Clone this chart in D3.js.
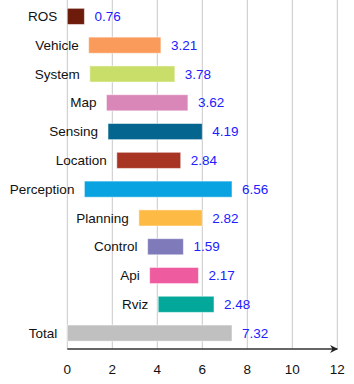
<!DOCTYPE html>
<html>
<head>
<meta charset="utf-8">
<script src="https://cdn.jsdelivr.net/npm/d3@7"></script>
<style>
  body { margin: 0; background: #fff; }
  text { font-family: "Liberation Sans", Arial, Helvetica, sans-serif; }
</style>
</head>
<body>
<script>
const categories = ["ROS", "Vehicle", "System", "Map", "Sensing", "Location", "Perception", "Planning", "Control", "Api", "Rviz", "Total"];
const starts = [0, 0.95, 1.0, 1.74, 1.81, 2.2, 0.76, 3.18, 3.57, 3.66, 4.04, 0];
const durations = [0.76, 3.21, 3.78, 3.62, 4.19, 2.84, 6.56, 2.82, 1.59, 2.17, 2.48, 7.32];
const colors = ["#6d1b0b", "#fa9a5b", "#c9dd69", "#d986b8", "#04658f", "#a83524", "#09a3e2", "#fdbb46", "#7f7aba", "#ef5b9f", "#04a89a", "#c0c0c0"];
const ticks = [0, 2, 4, 6, 8, 10, 12];

const svgWidth = 354;
const svgHeight = 384;
const axisY = 349; //y of the x-axis line

const xScale = d3.scaleLinear()
  .domain([0, 12])
  .range([67.3, 337.3]);

const yScale = d3.scaleBand()
  .domain(categories)
  .range([2, 347.5])
  .paddingInner(0.44)
  .paddingOuter(0.22);

const svg = d3.select("body")
  .append("svg")
  .attr("width", svgWidth)
  .attr("height", svgHeight);

//gridlines
svg.append("g")
  .selectAll("line")
  .data(ticks)
  .enter()
  .append("line")
  .attr("x1", d => xScale(d))
  .attr("x2", d => xScale(d))
  .attr("y1", 0)
  .attr("y2", axisY)
  .attr("stroke", "#c8c8c8")
  .attr("stroke-width", 1);

const rows = categories.map((c, i) => ({ name: c, start: starts[i], dur: durations[i], color: colors[i] }));

//bars
svg.append("g")
  .selectAll("rect")
  .data(rows)
  .enter()
  .append("rect")
  .attr("x", d => xScale(d.start))
  .attr("y", d => yScale(d.name))
  .attr("width", d => xScale(d.start + d.dur) - xScale(d.start))
  .attr("height", yScale.bandwidth())
  .attr("fill", d => d.color)
  .attr("stroke", "rgba(255,255,255,0.5)")
  .attr("stroke-width", 1);

//category labels
svg.append("g")
  .selectAll("text")
  .data(rows)
  .enter()
  .append("text")
  .attr("x", d => xScale(d.start) - 10)
  .attr("y", d => yScale(d.name) + yScale.bandwidth() / 2)
  .attr("dy", "0.35em")
  .attr("text-anchor", "end")
  .attr("font-size", "13.5px")
  .attr("fill", "#111")
  .text(d => d.name);

//value labels
svg.append("g")
  .selectAll("text")
  .data(rows)
  .enter()
  .append("text")
  .attr("x", d => xScale(d.start + d.dur) + 10)
  .attr("y", d => yScale(d.name) + yScale.bandwidth() / 2)
  .attr("dy", "0.35em")
  .attr("font-size", "13.5px")
  .attr("fill", "#2020ff")
  .text(d => d.dur.toFixed(2));

//x-axis with arrow
svg.append("defs").append("marker")
  .attr("id", "arrow")
  .attr("viewBox", "0 0 10 10")
  .attr("refX", 9)
  .attr("refY", 5)
  .attr("markerWidth", 8)
  .attr("markerHeight", 8)
  .attr("markerUnits", "userSpaceOnUse")
  .attr("orient", "auto")
  .append("path")
  .attr("d", "M0,0 L10,5 L0,10 L3,5 Z")
  .attr("fill", "#222");

svg.append("line")
  .attr("x1", xScale(0))
  .attr("x2", xScale(12))
  .attr("y1", axisY)
  .attr("y2", axisY)
  .attr("stroke", "#333")
  .attr("stroke-width", 1.5)
  .attr("marker-end", "url(#arrow)");

svg.append("g")
  .selectAll("text")
  .data(ticks)
  .enter()
  .append("text")
  .attr("x", d => xScale(d))
  .attr("y", 369)
  .attr("dy", "0.35em")
  .attr("text-anchor", "middle")
  .attr("font-size", "13.5px")
  .attr("fill", "#111")
  .text(d => d);
</script>
</body>
</html>
